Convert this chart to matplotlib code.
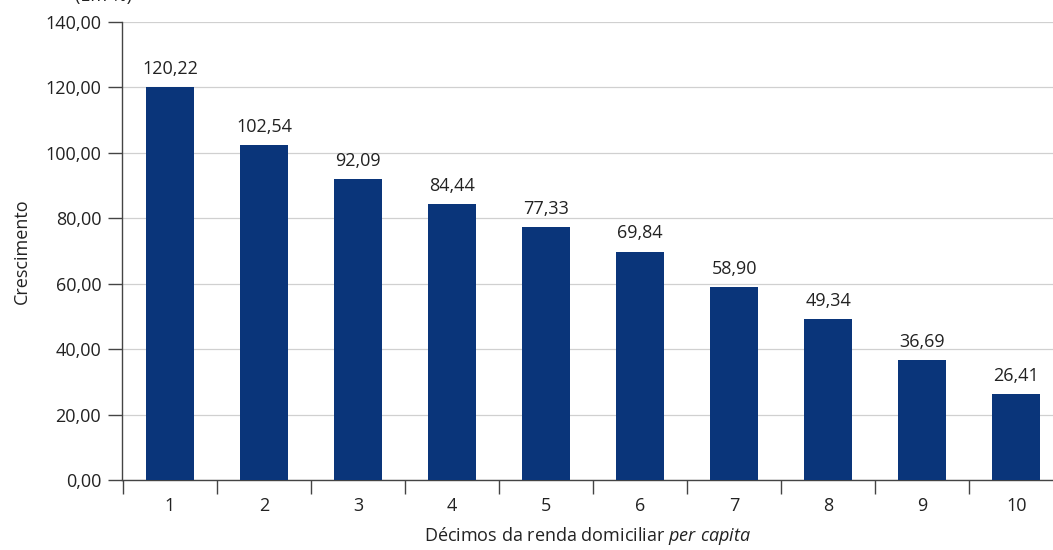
import numpy as np
import matplotlib
matplotlib.use('Agg')
import matplotlib.pyplot as plt
from matplotlib.ticker import FixedLocator

plt.rcParams['font.family'] = ['Open Sans', 'DejaVu Sans']
plt.rcParams['mathtext.fontset'] = 'custom'
plt.rcParams['mathtext.it'] = 'Open Sans:italic'
plt.rcParams['mathtext.rm'] = 'Open Sans'

decimos = ['1', '2', '3', '4', '5', '6', '7', '8', '9', '10']
crescimento = [120.22, 102.54, 92.09, 84.44, 77.33, 69.84, 58.90, 49.34, 36.69, 26.41]
yticks = [0, 20, 40, 60, 80, 100, 120, 140]

def br(v):
    return f'{v:.2f}'.replace('.', ',')

fs = 13
txt = '#222222'

fig = plt.figure(figsize=(10.53, 5.5), dpi=100)
ax = fig.add_axes([0.1159, 0.1273, 0.8841, 0.8327])

x = np.arange(1, len(decimos) + 1)
ax.bar(x, crescimento, width=0.51, color='#0a357a', zorder=3)
for xi, v in zip(x, crescimento):
    ax.annotate(br(v), (xi, v), xytext=(0, 6.5), textcoords='offset points',
                ha='center', va='bottom', fontsize=fs, color=txt)

ax.set_xlim(0.49, 10.39)
ax.set_ylim(0, 140)
ax.set_yticks(yticks)
ax.set_yticklabels([br(t) for t in yticks])
ax.yaxis.grid(True, color='#d0d0d0', linewidth=0.9, zorder=0)

ax.set_xticks(x)
ax.set_xticklabels(decimos)
ax.xaxis.set_minor_locator(FixedLocator(np.arange(0.5, 10.6, 1.0)))
ax.tick_params(axis='x', which='major', length=0, pad=12.5, labelsize=fs, labelcolor=txt)
ax.tick_params(axis='x', which='minor', length=10, width=1, color='#444444', direction='out')
ax.tick_params(axis='y', length=10, width=1, color='#444444', pad=5,
               labelsize=fs, labelcolor=txt)

for s in ['top', 'right']:
    ax.spines[s].set_visible(False)
for s in ['left', 'bottom']:
    ax.spines[s].set_color('#444444')
    ax.spines[s].set_linewidth(1)

ax.set_ylabel('Crescimento', fontsize=fs, color=txt, labelpad=10)
ax.set_xlabel(r'Décimos da renda domiciliar $\it{per\ capita}$', fontsize=fs,
              color=txt, labelpad=7)
fig.text(0.098, 0.99, '(Em %)', ha='center', va='bottom', fontsize=fs, color=txt)

fig.savefig('out.png', dpi=100)
